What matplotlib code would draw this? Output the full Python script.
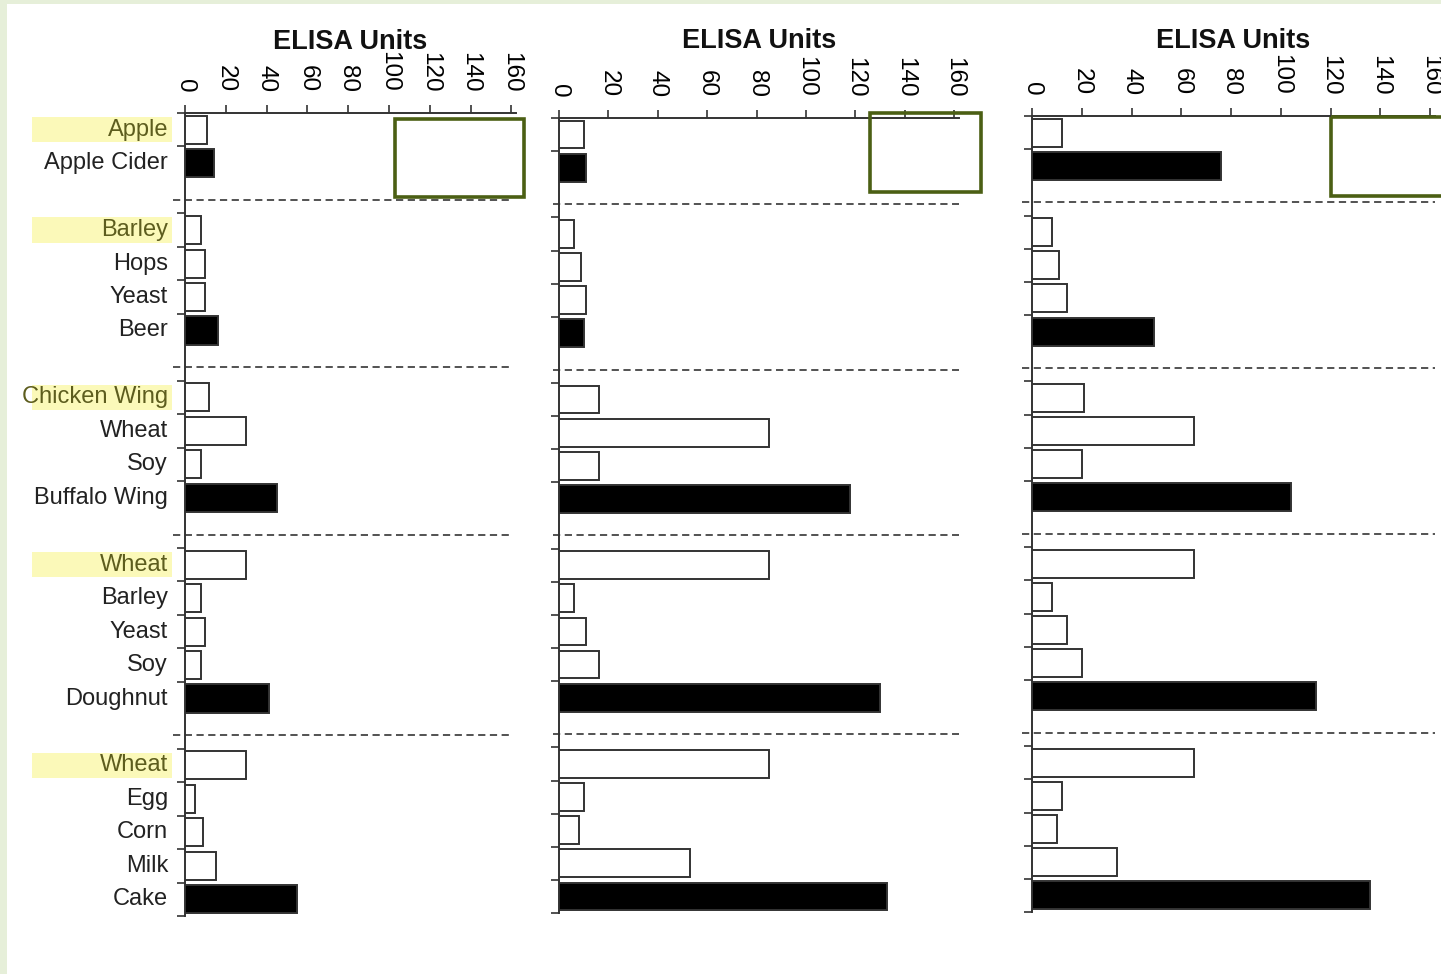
import matplotlib
matplotlib.use('Agg')
from matplotlib import pyplot as plt
from matplotlib.patches import Rectangle
import matplotlib.transforms as mtransforms

plt.rcParams['font.family'] = ['Liberation Sans', 'DejaVu Sans']

# categories, top to bottom, grouped
groups = [
    ['Apple', 'Apple Cider'],
    ['Barley', 'Hops', 'Yeast', 'Beer'],
    ['Chicken Wing', 'Wheat', 'Soy', 'Buffalo Wing'],
    ['Wheat', 'Barley', 'Yeast', 'Soy', 'Doughnut'],
    ['Wheat', 'Egg', 'Corn', 'Milk', 'Cake'],
]
# ELISA units per panel (same order as the categories)
panel1 = [[11, 14], [8, 10, 10, 16], [12, 30, 8, 45], [30, 8, 10, 8, 41], [30, 5, 9, 15, 55]]
panel2 = [[10, 11], [6, 9, 11, 10], [16, 85, 16, 118], [85, 6, 11, 16, 130], [85, 10, 8, 53, 133]]
panel3 = [[12, 76], [8, 11, 14, 49], [21, 65, 20, 104], [65, 8, 14, 20, 114], [65, 12, 10, 34, 136]]
x_ticks = [0, 20, 40, 60, 80, 100, 120, 140, 160]

W, H = 1441, 974
fig = plt.figure(figsize=(W / 100, H / 100), dpi=100)
fig.patch.set_facecolor('white')

# faint green slide border
fig.patches.append(Rectangle((0, 0), 7 / W, 1, transform=fig.transFigure,
                             facecolor='#e6efd9', edgecolor='none', zorder=0))
fig.patches.append(Rectangle((0, 1 - 4 / H), 1, 4 / H, transform=fig.transFigure,
                             facecolor='#e6efd9', edgecolor='none', zorder=0))

# y positions: one empty slot between groups
positions, labels, is_last, first_idx = [], [], [], []
gaps = []
pos = 0
for g in groups:
    for i, name in enumerate(g):
        positions.append(pos)
        labels.append(name)
        is_last.append(i == len(g) - 1)
        first_idx.append(i == 0)
        pos += 1
    gaps.append(pos)
    pos += 1
gaps = gaps[:-1]
y_max = positions[-1] + 0.5

# axes boxes in pixels: left, top, right, bottom
boxes = [(185, 113, 515.5, 916), (559, 118, 959, 913), (1032, 116, 1435, 912)]
data = [panel1, panel2, panel3]
# green annotation boxes in data coords (x0, x1, y0, y1)
green = [(103, 166, -0.33, 2.0), (126, 171, -0.66, 1.74), (120, 175, -0.48, 1.9)]
dash_x = [(-6, 161), (-2.5, 162), (-4, 162)]
title_y = [39, 38, 38]

for k in range(3):
    l, t, r, b = boxes[k]
    ax = fig.add_axes([l / W, (H - b) / H, (r - l) / W, (b - t) / H])
    vals = [v for g in data[k] for v in g]
    colors = ['black' if last else 'white' for last in is_last]
    ax.barh(positions, vals, height=0.84, color=colors, edgecolor='#333333',
            linewidth=1.4, zorder=3)
    ax.set_xlim(0, 162)
    ax.set_ylim(y_max, -0.5)

    for s in ['right', 'bottom']:
        ax.spines[s].set_visible(False)
    for s in ['top', 'left']:
        ax.spines[s].set_color('#333333')
        ax.spines[s].set_linewidth(1.4)

    ax.xaxis.tick_top()
    ax.set_xticks(x_ticks)
    ax.set_xticklabels([str(v) for v in x_ticks], rotation=270, fontsize=17.5)
    ax.tick_params(axis='x', length=6, width=1.2, color='#333333', pad=9)

    ttrans = mtransforms.blended_transform_factory(ax.transAxes, fig.transFigure)
    ax.text(0.5, 1 - title_y[k] / H, 'ELISA Units', transform=ttrans, ha='center',
            va='center_baseline', fontsize=19.5, fontweight='bold', color='#111111')

    bounds = [p - 0.5 for p in positions] + [y_max]
    ax.set_yticks(sorted(set(bounds)))
    ax.set_yticklabels([])
    ax.tick_params(axis='y', length=6, width=1.2, color='#333333')

    for gy in gaps:
        ax.plot(dash_x[k], [gy + 0.1, gy + 0.1], linestyle=(0, (4, 2.5)), color='#444444',
                linewidth=1.3, clip_on=False, zorder=2)

    gx0, gx1, gy0, gy1 = green[k]
    ax.add_patch(Rectangle((gx0, gy0), gx1 - gx0, gy1 - gy0, facecolor='none',
                           edgecolor='#4b5f14', linewidth=2.6, clip_on=False, zorder=5))

    if k == 0:
        trans = mtransforms.blended_transform_factory(fig.transFigure, ax.transData)
        for p, name, first in zip(positions, labels, first_idx):
            col = '#222222'
            if first:
                ax.add_patch(Rectangle((32 / W, p - 0.38), 140 / W, 0.76, transform=trans,
                                       facecolor='#fbf9b9', edgecolor='none',
                                       clip_on=False, zorder=1))
                col = '#5d5d1e'
            ax.text(168 / W, p, name, transform=trans, ha='right', va='center',
                    fontsize=17, color=col, zorder=2)

fig.savefig('out.png', dpi=100)
